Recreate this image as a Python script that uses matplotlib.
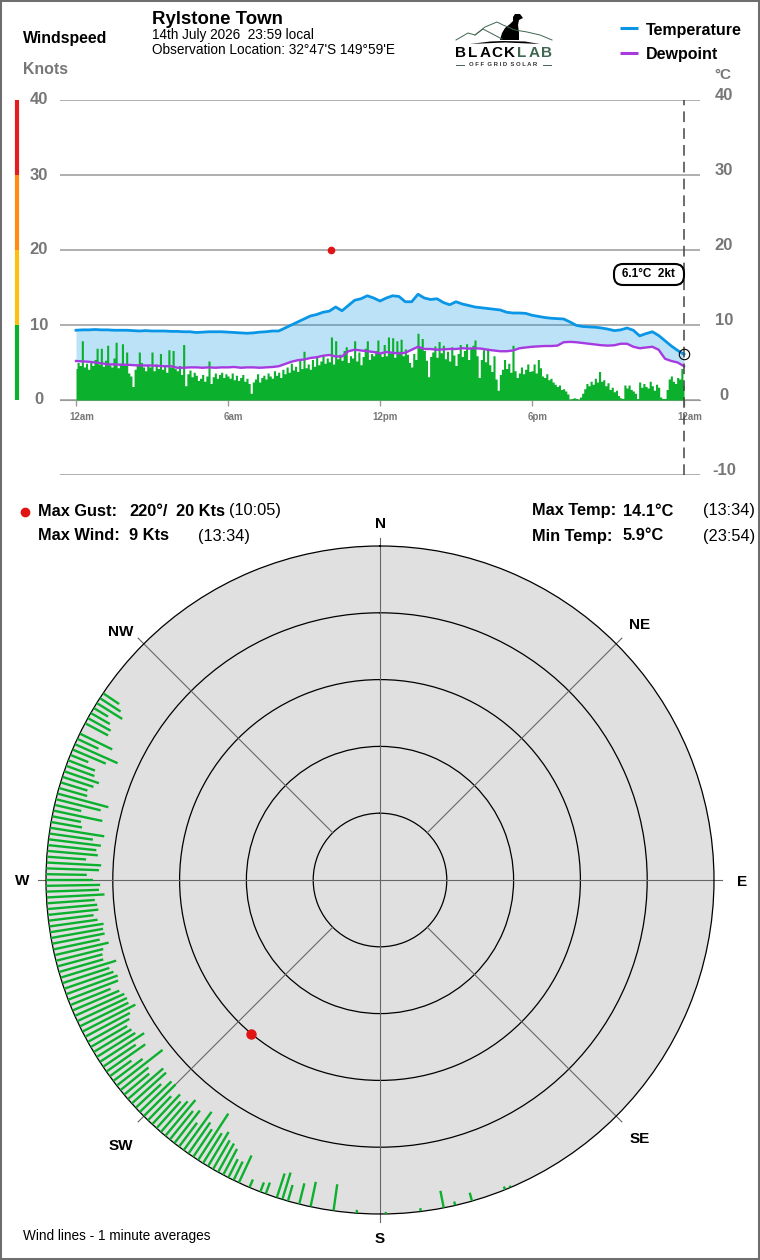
import numpy as np
import matplotlib
matplotlib.use('Agg')
import matplotlib.pyplot as plt
from matplotlib.patches import FancyBboxPatch

plt.rcParams['font.family'] = ['Liberation Sans', 'DejaVu Sans']

W, H = 760, 1260

# Температура и точка росы, шаг 15 минут
temp = [9.3, 9.35, 9.35, 9.4, 9.35, 9.35, 9.3, 9.3, 9.3, 9.25, 9.2, 9.25, 9.2, 9.2, 9.2, 9.15,
        9.15, 9.1, 9.1, 9.0, 9.05, 9.1, 9.1, 9.1, 9.05, 9.0, 8.95, 8.9, 8.95, 9.05, 9.1, 9.2,
        9.2, 9.6, 10.0, 10.4, 10.8, 11.2, 11.4, 11.7, 11.85, 12.4, 11.9, 12.6, 13.3, 13.5, 13.9, 13.6,
        13.2, 13.6, 13.9, 13.8, 13.1, 13.1, 14.1, 13.6, 13.4, 13.5, 13.0, 12.7, 13.1, 12.8, 12.6, 12.4,
        12.3, 12.2, 12.1, 12.0, 11.7, 11.6, 11.6, 11.55, 11.3, 11.15, 11.0, 10.9, 10.85, 10.8, 10.4, 9.95,
        9.8, 9.75, 9.7, 9.6, 9.45, 9.25, 9.35, 9.6, 9.3, 8.55, 8.85, 9.1, 8.6, 7.9, 7.2, 6.6, 6.1]
dewpoint = [5.2, 5.15, 5.1, 5.0, 4.9, 4.75, 4.75, 4.7, 4.7, 4.65, 4.6, 4.6, 4.6, 4.55, 4.5, 4.5,
            4.3, 4.3, 4.35, 4.35, 4.3, 4.35, 4.3, 4.35, 4.35, 4.4, 4.3, 4.35, 4.35, 4.3, 4.35, 4.4,
            4.5, 4.8, 5.1, 5.3, 5.4, 5.6, 5.7, 5.9, 6.0, 5.8, 5.8, 6.5, 6.7, 6.6, 6.5, 6.4,
            6.2, 6.4, 6.3, 6.2, 6.3, 6.7, 7.1, 6.8, 6.8, 6.7, 6.75, 6.8, 6.8, 6.9, 6.85, 6.9,
            6.85, 6.7, 6.6, 6.5, 6.5, 6.6, 6.9, 7.0, 7.1, 7.15, 7.2, 7.2, 7.25, 7.7, 7.75, 7.7,
            7.6, 7.5, 7.4, 7.3, 7.25, 7.3, 7.5, 7.5, 7.1, 6.9, 7.0, 7.1, 6.7, 5.5, 5.2, 5.0, 4.5]

# Средний ветер, шаг 5 минут
wind = [4.2, 5.0, 4.6, 7.9, 4.4, 4.9, 4.1, 5.2, 4.6, 5.4, 6.9, 4.8, 6.9, 4.5, 5.3, 7.3, 4.7, 4.4, 5.6, 7.7,
        4.3, 4.9, 7.5, 4.6, 6.4, 3.6, 3.2, 1.8, 4.1, 4.8, 6.4, 5.0, 4.4, 3.9, 4.7, 4.4, 6.4, 3.9, 4.8, 4.2,
        6.2, 4.1, 4.7, 3.7, 6.7, 4.4, 6.6, 4.2, 3.9, 4.6, 3.4, 7.4, 1.9, 3.5, 4.0, 3.1, 3.7, 3.3, 2.6, 2.9,
        3.4, 2.5, 3.2, 5.2, 2.2, 3.1, 3.6, 2.9, 3.4, 3.7, 3.0, 3.5,
        3.2, 2.9, 3.6, 2.7, 3.3, 2.6, 3.0, 3.4, 2.5, 2.9, 2.2, 0.9, 2.4, 2.8, 3.5, 2.4, 3.0, 3.3, 2.8, 3.6,
        3.2, 2.9, 3.9, 3.3, 3.7, 3.0, 4.1, 3.5, 4.4, 3.7, 4.9, 4.0, 4.5, 3.8, 5.3, 4.2, 6.5, 4.3, 4.8, 4.1,
        5.4, 4.5, 5.9, 4.7, 5.2, 6.0, 4.9, 5.6, 5.1, 8.4, 4.8, 7.9, 5.5, 6.1, 5.3, 6.6, 7.1, 5.0, 5.9, 5.6,
        7.9, 5.2, 6.4, 4.7, 5.8, 6.9, 7.9, 5.4, 6.2, 5.9, 6.6, 8.0,
        6.2, 5.8, 7.4, 5.9, 8.4, 6.3, 8.3, 5.7, 7.9, 6.5, 8.1, 5.9, 6.8, 6.1, 5.0, 4.4, 6.2, 5.4, 8.9, 7.1,
        8.2, 6.6, 5.3, 3.1, 5.8, 6.4, 7.2, 5.7, 7.8, 6.3, 7.3, 5.5, 6.5, 5.2, 7.1, 6.0, 4.6, 6.2, 7.4, 5.8,
        6.6, 7.5, 5.4, 6.9, 7.3, 8.0, 5.9, 3.0, 5.4, 6.7, 5.1, 6.9, 4.7, 3.8, 5.9, 2.8, 1.3, 3.4, 4.1, 5.4,
        4.2, 4.9, 3.7, 7.3, 3.9, 3.0, 3.6, 4.4, 3.5, 4.1, 4.8, 3.8,
        3.9, 4.8, 3.6, 5.4, 4.3, 3.2, 3.0, 3.5, 2.7, 2.9, 2.4, 2.1, 1.8, 2.0, 1.4, 1.5, 1.2, 0.8, 0.1, 0.2,
        0.3, 0.2, 0.1, 0.4, 0.9, 1.5, 2.2, 1.9, 2.5, 2.1, 2.9, 2.4, 3.8, 2.5, 2.7, 1.9, 2.3, 1.4, 1.7, 1.1,
        1.3, 0.6, 0.3, 0.2, 2.0, 1.6, 2.0, 1.4, 1.2, 0.9, 0.2, 2.4, 1.7, 2.2, 1.8, 1.6, 2.5, 1.9, 1.3, 2.1,
        1.7, 0.4, 0.2, 0.2, 1.4, 2.8, 3.2, 2.5, 2.2, 3.0, 2.8, 4.2, 2.0]

# Направление (градусы) и скорость для ветровой розы
rose_dir = [304, 303, 302, 301, 300, 299, 298, 296, 295, 294, 293, 292, 291, 290, 289, 288, 287, 286, 285, 284,
            283, 282, 281, 280, 279, 278, 277, 276, 275, 274, 273, 272, 271, 270, 269, 268, 267, 266, 265, 264,
            263, 262, 261, 260, 259, 258, 257, 256, 255, 254, 253, 252, 251, 250, 249, 248, 247, 246, 245, 244,
            243, 242, 241, 240, 239, 238, 237, 236, 235, 234, 233, 232, 231, 230, 229, 228, 227, 226, 225, 224,
            223, 222, 221, 220, 219, 218, 217, 216, 215, 214, 213, 212, 211, 210, 209, 208, 207, 206, 205, 203,
            201, 200, 198, 197, 196, 194, 192, 188, 184, 179, 173, 169, 167, 164, 158, 157]
rose_speed = [2.9, 3.7, 4.5, 2.5, 3.3, 3.9, 3.9, 5.4, 3.5, 7.0, 5.4, 2.9, 4.3, 4.5, 5.5, 4.9, 4.2, 4.4, 7.9, 6.9,
              4.1, 7.5, 4.4, 4.7, 8.2, 6.6, 7.9, 7.3, 7.6, 5.9, 8.2, 7.9, 6.1, 7.0, 8.1, 7.9, 8.7, 7.2, 7.5, 7.6,
              6.8, 7.3, 8.1, 7.9, 8.0, 7.1, 8.3, 7.3, 7.0, 6.9, 8.7, 7.4, 7.8, 8.2, 8.0, 6.5, 7.6, 8.1, 8.2, 8.1,
              8.9, 7.6, 7.1, 6.3, 6.6, 6.8, 7.9, 5.9, 7.1, 4.0, 5.5, 8.7, 5.4, 4.9, 7.0, 6.9, 5.2, 6.6, 6.7, 5.0,
              6.1, 5.4, 6.1, 7.0, 5.5, 6.2, 4.5, 7.1, 5.7, 5.0, 8.3, 5.3, 6.0, 5.0, 4.9, 4.4, 3.1, 3.1, 4.5, 1.3,
              1.5, 1.8, 3.8, 4.2, 2.5, 3.2, 3.8, 4.0, 0.5, 0.3, 0.5, 2.6, 0.6, 1.3, 0.5, 0.3]

gust_dir, gust_speed, gust_hour = 220, 20, 10 + 5 / 60
wind_band_edges = [0, 10, 20, 30, 40]
band_colors = ['#0bb02d', '#fdc010', '#ff8a14', '#e51c1c']
temp_ticks = [40, 30, 20, 10, 0, -10]
wind_ticks = [40, 30, 20, 10, 0]
time_ticks = [0, 6, 12, 18, 24]
time_labels = ['12am', '6am', '12pm', '6pm', '12am']
rings = [10, 20, 30, 40]

BLUE, PURPLE, GREEN, RED = '#0a96e6', '#a63ae0', '#0bb02d', '#e01414'
GREY, GRID = '#777777', '#9a9a9a'

fig = plt.figure(figsize=(W / 100, H / 100), dpi=100, facecolor='white')

# Общий слой в пикселях: подписи, логотип, рамка
page = fig.add_axes([0, 0, 1, 1], zorder=0)
page.set_xlim(0, W)
page.set_ylim(H, 0)
page.set_xticks([])
page.set_yticks([])
for s in page.spines.values():
    s.set_linewidth(2.9)
    s.set_edgecolor('#6e6e6e')


def label(x, y, s, size=11.8, weight='bold', color='black', ha='left', **kw):
    return page.text(x, y, s, fontsize=size, fontweight=weight, color=color, ha=ha, va='center', **kw)


label(23, 39, 'Windspeed', 11.4)
label(23, 70, 'Knots', 11.4, color=GREY)
label(152, 19, 'Rylstone Town', 13.4)
label(152, 35, '14th July 2026  23:59 local', 9.85, 'normal')
label(152, 50, "Observation Location: 32°47'S 149°59'E", 9.85, 'normal')
label(714, 75, '°C', 11, color=GREY)

# Легенда
page.plot([620, 638], [28, 28], color=BLUE, lw=2.2, solid_capstyle='butt')
page.plot([620, 638], [53, 53], color=PURPLE, lw=2.2, solid_capstyle='butt')
label(646, 30, 'Temperature', 11.5)
label(646, 54, 'Dewpoint', 11.5)

# Логотип
LOGO_GREEN = '#3f6650'
page.plot([456, 468, 475, 485, 497, 503, 515, 527, 540, 552],
          [40, 33, 35, 27, 22, 25, 30, 32, 35, 40], color=LOGO_GREEN, lw=0.7)
page.plot([475, 483, 502], [35, 29, 39], color=LOGO_GREEN, lw=0.7)
page.fill([470, 490, 503, 525, 540, 505], [44, 41.5, 41, 41.5, 44, 42.5], color='black', lw=0)
page.fill([500, 502, 505, 510, 513, 513, 515, 520, 523, 519, 518, 519, 519],
          [40, 33, 28, 24, 21, 17, 14, 14, 18, 20, 25, 33, 40], color='black', lw=0)
for i, ch in enumerate('BLACKLAB'):
    label(460 + i * 12.4, 53, ch, 11, color='black' if i < 5 else LOGO_GREEN, ha='center')
label(503, 65, 'O F F  G R I D  S O L A R', 4.3, color='#333333', ha='center')
page.plot([456, 464], [65, 65], color=LOGO_GREEN, lw=0.7)
page.plot([543, 551], [65, 65], color=LOGO_GREEN, lw=0.7)

# Строки со сводкой
page.plot([25], [512], 'o', color=RED, ms=6)
label(38, 511, 'Max Gust:')
label(129, 511, '220°/')
label(176, 511, '20 Kts')
label(229, 511, '(10:05)', weight='normal')
label(38, 536, 'Max Wind:')
label(129, 536, '9 Kts')
label(198, 536, '(13:34)', weight='normal')
label(532, 511, 'Max Temp:')
label(623, 511, '14.1°C')
label(703, 511, '(13:34)', weight='normal')
label(532, 536, 'Min Temp:')
label(623, 536, '5.9°C')
label(703, 536, '(23:54)', weight='normal')
label(23, 1236, 'Wind lines - 1 minute averages', 9.85, 'normal')

# Верхний график: ось часов и единая шкала значений
px_per_hour = (684 - 76) / 24
ax = fig.add_axes([60 / W, 1 - 475 / H, 640 / W, 375 / H], zorder=1)
ax.patch.set_visible(False)
ax.set_xlim(-16 / px_per_hour, 24 + 16 / px_per_hour)
ax.set_ylim(-10, 40)
for name, s in ax.spines.items():
    s.set_visible(name == 'bottom')
ax.spines['bottom'].set_position(('data', 0))
ax.spines['bottom'].set_color(GRID)
ax.set_axisbelow(True)
ax.grid(axis='y', color=GRID, lw=1.1)
ax.set_yticks(temp_ticks)
ax.tick_params(axis='y', length=0, labelleft=False)
ax.set_xticks(time_ticks)
ax.tick_params(axis='x', length=4, width=1, color=GRID, labelbottom=False)

t_temp = np.linspace(0, 24, len(temp))
t_wind = np.linspace(0, 24, len(wind))
ax.fill_between(t_temp, dewpoint, temp, color=BLUE, alpha=0.27, lw=0, zorder=2)
ax.fill_between(t_wind, 0, wind, color=GREEN, lw=0, step='mid', zorder=3)
ax.plot(t_temp, temp, color=BLUE, lw=2.0, zorder=4)
ax.plot(t_temp, dewpoint, color=PURPLE, lw=1.7, zorder=4)
ax.plot([gust_hour], [gust_speed], 'o', color=RED, ms=4.5, zorder=5)

# Линия текущего момента и подпись
ax.plot([24, 24], [-10, 40], color='#444444', lw=1.1, dashes=(7, 4), zorder=5)
ax.plot([24], [temp[-1]], 'o', mfc='none', mec='black', mew=0.8, ms=7.5, zorder=6)
ax.add_patch(FancyBboxPatch((614, 264), 70, 21, boxstyle='round,pad=0,rounding_size=9', fc='white', ec='black',
                            lw=1.5, transform=page.transData, clip_on=False, zorder=7))
ax.text(648.5, 274, f'{temp[-1]}°C  {wind[-1]:.0f}kt', transform=page.transData, ha='center', va='center',
        fontsize=8.5, fontweight='bold', zorder=8)

trans = ax.get_yaxis_transform()
for v in wind_ticks:
    ax.text((39 - 60) / 640, v, str(v), transform=trans, ha='center', va='center',
            fontsize=12, fontweight='bold', color=GREY, clip_on=False)
for v in temp_ticks:
    ax.text((724 - 60) / 640, v + 0.55, str(v), transform=trans, ha='center', va='center',
            fontsize=12, fontweight='bold', color=GREY, clip_on=False)
for h, s in zip(time_ticks, time_labels):
    ax.annotate(s, (h, 0), xytext=(4, -12), textcoords='offset points', ha='center', va='center',
                fontsize=7, fontweight='bold', color=GREY)

# Цветная полоса уровней ветра слева
strip_x = (17 - 60) / 640
for lo, hi, c in zip(wind_band_edges[:-1], wind_band_edges[1:], band_colors):
    ax.plot([strip_x, strip_x], [lo, hi], color=c, lw=3, transform=trans, clip_on=False, solid_capstyle='butt')

# Роза ветров: ноль на внешней окружности, скорость растёт к центру
polar = fig.add_axes([46 / W, 1 - (546 + 668) / H, 668 / W, 668 / H], projection='polar', zorder=1)
polar.set_theta_zero_location('N')
polar.set_theta_direction(-1)
polar.set_rlim(50, 0)
polar.set_facecolor('#e0e0e0')
polar.set_rgrids(rings, labels=[''] * len(rings))
polar.set_thetagrids([], [])
polar.grid(axis='y', color='black', lw=0.9)
polar.spines['polar'].set_edgecolor('black')
polar.spines['polar'].set_linewidth(0.9)

for b, inner in [(0, 50), (90, 50), (180, 50), (270, 50), (45, 40), (135, 40), (225, 40), (315, 40)]:
    polar.plot([np.radians(b)] * 2, [inner, -1.2], color='#666666', lw=0.8, clip_on=False, zorder=2)
polar.vlines(np.radians(rose_dir), 0, rose_speed, color=GREEN, lw=1.7, zorder=3)
polar.plot([np.radians(gust_dir)], [gust_speed], 'o', color=RED, ms=6.5, zorder=4)

for x, y, s in [(380, 524, 'N'), (640, 625, 'NE'), (742, 882, 'E'), (640, 1139, 'SE'),
                (380, 1239, 'S'), (121, 1146, 'SW'), (22, 881, 'W'), (121, 632, 'NW')]:
    label(x, y, s, 11, ha='center')

fig.savefig('out.png', dpi=100)
